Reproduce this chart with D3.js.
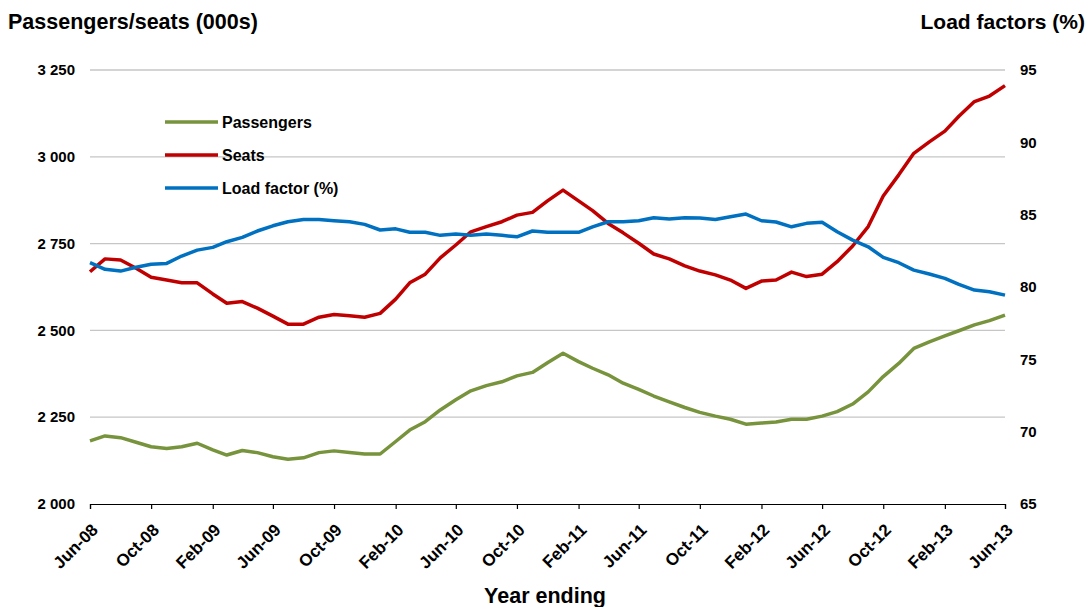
<!DOCTYPE html>
<html>
<head>
<meta charset="utf-8">
<script src="https://d3js.org/d3.v7.min.js"></script>
<style>
  body { margin: 0; background: #fff; }
  svg text { font-family: "Liberation Sans", Arial, sans-serif; font-weight: bold; fill: #000; }
</style>
</head>
<body>
<svg width="1089" height="607"></svg>
<script>
// monthly, year ending Jun-08 .. Jun-13
var startMonth = new Date(2008, 5, 1);
var endMonth = new Date(2013, 5, 1);
var months = d3.timeMonth.range(startMonth, d3.timeMonth.offset(endMonth, 1));

var passengers = [2182, 2196, 2191, 2178, 2165, 2160, 2165, 2175, 2156, 2141,
  2154, 2148, 2136, 2129, 2133, 2148, 2153, 2148, 2144, 2144,
  2180, 2213, 2237, 2271, 2300, 2326, 2341, 2352, 2369, 2379,
  2407, 2434, 2410, 2391, 2372, 2348, 2330, 2311, 2294, 2278,
  2264, 2253, 2244, 2230, 2233, 2236, 2244, 2244, 2253, 2266,
  2288, 2323, 2367, 2405, 2448, 2467, 2484, 2499, 2516, 2528, 2544];

var seats = [2669, 2706, 2703, 2679, 2653, 2645, 2637, 2637, 2605, 2578,
  2583, 2564, 2541, 2518, 2518, 2538, 2546, 2542, 2538, 2549,
  2590, 2637, 2662, 2709, 2746, 2784, 2799, 2813, 2832, 2840,
  2873, 2904, 2873, 2845, 2808, 2781, 2751, 2720, 2706, 2686,
  2671, 2660, 2645, 2621, 2642, 2645, 2668, 2655, 2662, 2698,
  2743, 2799, 2887, 2948, 3010, 3043, 3074, 3117, 3159, 3175, 3205];

var loadFactor = [81.68, 81.22, 81.1, 81.36, 81.57, 81.63, 82.14, 82.55, 82.74, 83.13,
  83.43, 83.87, 84.23, 84.51, 84.67, 84.67, 84.58, 84.51, 84.33, 83.94,
  84.02, 83.78, 83.78, 83.57, 83.66, 83.57, 83.66, 83.57, 83.47, 83.87,
  83.78, 83.78, 83.78, 84.16, 84.51, 84.51, 84.58, 84.79, 84.7, 84.79,
  84.77, 84.67, 84.86, 85.04, 84.58, 84.49, 84.16, 84.4, 84.47, 83.82,
  83.24, 82.78, 82.05, 81.68, 81.17, 80.9, 80.6, 80.18, 79.79, 79.67, 79.44];

var leftTicks = [2000, 2250, 2500, 2750, 3000, 3250];
var rightTicks = [65, 70, 75, 80, 85, 90, 95];

var series = [
  { name: "Passengers", values: passengers, axis: "left", color: "#77933C" },
  { name: "Seats", values: seats, axis: "left", color: "#C00000" },
  { name: "Load factor (%)", values: loadFactor, axis: "right", color: "#0070C0" }
];

var svg = d3.select("svg");
var plotLeft = 90, plotRight = 1005, plotTop = 70, plotBottom = 504;

var x = d3.scaleTime().domain([startMonth, endMonth]).range([plotLeft, plotRight]);
var yL = d3.scaleLinear().domain([2000, 3250]).range([plotBottom, plotTop]);
var yR = d3.scaleLinear().domain([65, 95]).range([plotBottom, plotTop]);

var spaceFmt = function (d) { return d3.format(",")(d).replace(",", " "); };

// gridlines
svg.append("g")
  .selectAll("line")
  .data(leftTicks.slice(1))
  .enter().append("line")
  .attr("x1", plotLeft).attr("x2", plotRight)
  .attr("y1", function (d) { return yL(d); })
  .attr("y2", function (d) { return yL(d); })
  .attr("stroke", "#c6c6c6")
  .attr("stroke-width", 1.3);

// left axis labels
svg.append("g")
  .selectAll("text")
  .data(leftTicks)
  .enter().append("text")
  .attr("x", 75)
  .attr("y", function (d) { return yL(d); })
  .attr("dy", "0.35em")
  .attr("text-anchor", "end")
  .style("font-size", "15px")
  .text(spaceFmt);

// right axis labels
svg.append("g")
  .selectAll("text")
  .data(rightTicks)
  .enter().append("text")
  .attr("x", 1020)
  .attr("y", function (d) { return yR(d); })
  .attr("dy", "0.35em")
  .style("font-size", "15px")
  .text(function (d) { return d; });

// x axis
var tickMonths = months.filter(function (d, i) { return i % 4 === 0; });
var xAxis = d3.axisBottom(x)
  .tickValues(tickMonths)
  .tickSize(5)
  .tickFormat("");
var gx = svg.append("g")
  .attr("transform", "translate(0," + plotBottom + ")")
  .call(xAxis);
gx.select(".domain").attr("stroke", "#000").attr("stroke-width", 1.2);
gx.selectAll(".tick line").attr("stroke", "#000").attr("stroke-width", 1.2);

svg.append("g")
  .selectAll("text")
  .data(tickMonths)
  .enter().append("text")
  .attr("transform", function (d) {
    return "translate(" + (x(d) + 9) + "," + 531 + ") rotate(-45)";
  })
  .attr("text-anchor", "end")
  .style("font-size", "17px")
  .text(d3.timeFormat("%b-%y"));

// lines
series.forEach(function (s) {
  var yScale = s.axis === "left" ? yL : yR;
  var line = d3.line()
    .x(function (d, i) { return x(months[i]); })
    .y(function (d) { return yScale(d); });
  svg.append("path")
    .datum(s.values)
    .attr("fill", "none")
    .attr("stroke", s.color)
    .attr("stroke-width", 3.5)
    .attr("stroke-linejoin", "round")
    .attr("d", line);
});

// legend
var legend = svg.append("g")
  .selectAll("g")
  .data(series)
  .enter().append("g")
  .attr("transform", function (d, i) { return "translate(165," + (122 + i * 33) + ")"; });
legend.append("line")
  .attr("x1", 0).attr("x2", 53)
  .attr("stroke", function (d) { return d.color; })
  .attr("stroke-width", 3.5);
legend.append("text")
  .attr("x", 57)
  .attr("dy", "0.35em")
  .style("font-size", "16px")
  .text(function (d) { return d.name; });

// titles
svg.append("text")
  .attr("x", 8).attr("y", 29)
  .style("font-size", "21.5px")
  .text("Passengers/seats (000s)");
svg.append("text")
  .attr("x", 1085).attr("y", 29)
  .attr("text-anchor", "end")
  .style("font-size", "21px")
  .text("Load factors (%)");
svg.append("text")
  .attr("x", 545).attr("y", 603)
  .attr("text-anchor", "middle")
  .style("font-size", "21.5px")
  .text("Year ending");
</script>
</body>
</html>
